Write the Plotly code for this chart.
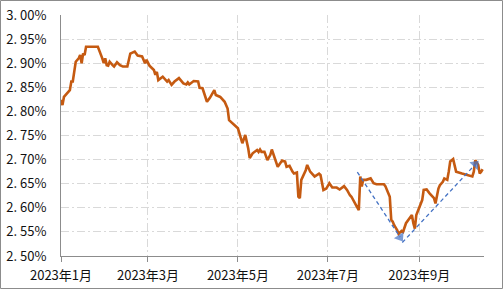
import plotly.graph_objects as go

# ---- data ----
dates = [
    "2023-01-01", "2023-01-02", "2023-01-03", "2023-01-06", "2023-01-07", "2023-01-08",
    "2023-01-09", "2023-01-11", "2023-01-13", "2023-01-14", "2023-01-15", "2023-01-16",
    "2023-01-17", "2023-01-18", "2023-01-26", "2023-01-29", "2023-01-30", "2023-01-31",
    "2023-02-01", "2023-02-02", "2023-02-03", "2023-02-05", "2023-02-06", "2023-02-08",
    "2023-02-10", "2023-02-12", "2023-02-15", "2023-02-17", "2023-02-20", "2023-02-22",
    "2023-02-25", "2023-02-27", "2023-02-28", "2023-03-02", "2023-03-05", "2023-03-06",
    "2023-03-07", "2023-03-08", "2023-03-11", "2023-03-14", "2023-03-15", "2023-03-17",
    "2023-03-19", "2023-03-22", "2023-03-25", "2023-03-27", "2023-03-28", "2023-03-29",
    "2023-04-01", "2023-04-04", "2023-04-05", "2023-04-07", "2023-04-10", "2023-04-12",
    "2023-04-15", "2023-04-16", "2023-04-19", "2023-04-22", "2023-04-24", "2023-04-25",
    "2023-04-28", "2023-05-01", "2023-05-04", "2023-05-06", "2023-05-08", "2023-05-09",
    "2023-05-11", "2023-05-14", "2023-05-15", "2023-05-16", "2023-05-17", "2023-05-19",
    "2023-05-21", "2023-05-23", "2023-05-24", "2023-05-26", "2023-05-28", "2023-05-31",
    "2023-06-02", "2023-06-03", "2023-06-05", "2023-06-07", "2023-06-08", "2023-06-10",
    "2023-06-11", "2023-06-12", "2023-06-13", "2023-06-16", "2023-06-17", "2023-06-19",
    "2023-06-22", "2023-06-25", "2023-06-26", "2023-06-28", "2023-06-30", "2023-07-02",
    "2023-07-04", "2023-07-07", "2023-07-09", "2023-07-12", "2023-07-14", "2023-07-16",
    "2023-07-17", "2023-07-20", "2023-07-22", "2023-07-23", "2023-07-24", "2023-07-25",
    "2023-07-27", "2023-07-30", "2023-08-01", "2023-08-03", "2023-08-08", "2023-08-09",
    "2023-08-12", "2023-08-13", "2023-08-14", "2023-08-15", "2023-08-17", "2023-08-18",
    "2023-08-20", "2023-08-21", "2023-08-23", "2023-08-26", "2023-08-27", "2023-08-28",
    "2023-08-29", "2023-08-30", "2023-09-02", "2023-09-03", "2023-09-04", "2023-09-06",
    "2023-09-08", "2023-09-11", "2023-09-12", "2023-09-14", "2023-09-15", "2023-09-17",
    "2023-09-18", "2023-09-20", "2023-09-21", "2023-09-22", "2023-09-24", "2023-09-25",
    "2023-09-26", "2023-09-30", "2023-10-05", "2023-10-07", "2023-10-08", "2023-10-09",
    "2023-10-11", "2023-10-12", "2023-10-13", "2023-10-14",
]
yields = [
    2.824, 2.813, 2.830, 2.841, 2.844, 2.862,
    2.862, 2.903, 2.910, 2.917, 2.900, 2.920,
    2.917, 2.934, 2.934, 2.910, 2.900, 2.910,
    2.896, 2.895, 2.903, 2.896, 2.893, 2.902,
    2.896, 2.893, 2.893, 2.920, 2.924, 2.916,
    2.914, 2.900, 2.907, 2.895, 2.886, 2.876,
    2.882, 2.865, 2.872, 2.862, 2.865, 2.855,
    2.862, 2.869, 2.858, 2.856, 2.860, 2.856,
    2.863, 2.862, 2.849, 2.848, 2.820, 2.828,
    2.844, 2.834, 2.830, 2.820, 2.806, 2.782,
    2.773, 2.765, 2.734, 2.751, 2.723, 2.703,
    2.713, 2.720, 2.716, 2.721, 2.716, 2.716,
    2.699, 2.710, 2.721, 2.703, 2.685, 2.698,
    2.696, 2.685, 2.687, 2.675, 2.671, 2.673,
    2.623, 2.620, 2.658, 2.678, 2.689, 2.675,
    2.665, 2.671, 2.668, 2.637, 2.640, 2.651,
    2.642, 2.642, 2.638, 2.645, 2.637, 2.626,
    2.623, 2.606, 2.595, 2.665, 2.644, 2.658,
    2.658, 2.661, 2.651, 2.649, 2.649, 2.645,
    2.623, 2.575, 2.571, 2.564, 2.554, 2.546,
    2.552, 2.550, 2.568, 2.581, 2.585, 2.568,
    2.557, 2.585, 2.609, 2.616, 2.637, 2.638,
    2.630, 2.620, 2.609, 2.640, 2.647, 2.654,
    2.661, 2.658, 2.675, 2.696, 2.701, 2.689,
    2.675, 2.671, 2.666, 2.665, 2.675, 2.699,
    2.689, 2.671, 2.675, 2.680,
]

# trend arrows (start, end) in data terms
arrow1_x = ["2023-07-21", "2023-08-19"]
arrow1_y = [2.674, 2.539]
arrow2_x = ["2023-08-20 12:00", "2023-10-09"]
arrow2_y = [2.528, 2.690]

x_tick_vals = ["2023-01-01", "2023-03-01", "2023-05-01", "2023-07-01", "2023-09-01"]
x_tick_text = ["2023年1月", "2023年3月", "2023年5月", "2023年7月", "2023年9月"]
y_tick_vals = [2.50, 2.55, 2.60, 2.65, 2.70, 2.75, 2.80, 2.85, 2.90, 2.95, 3.00]
y_tick_text = ["2. 50%", "2. 55%", "2. 60%", "2. 65%", "2. 70%", "2. 75%",
               "2. 80%", "2. 85%", "2. 90%", "2. 95%", "3. 00%"]
x_range = ["2023-01-01", "2023-10-14 22:00"]
y_range = [2.50, 3.00]

# ---- figure ----
W, H = 503, 289
ML, MR, MT, MB = 61, 19, 15, 33
FONT = "Noto Sans CJK SC, Liberation Sans, sans-serif"
GRID_DASH = "8px,3px,2px,3px"

fig = go.Figure()
fig.add_trace(go.Scatter(
    x=dates, y=yields, mode="lines",
    line=dict(color="#C55A11", width=2.6),
    showlegend=False, hoverinfo="skip",
))
for ax, ay in ((arrow1_x, arrow1_y), (arrow2_x, arrow2_y)):
    fig.add_trace(go.Scatter(
        x=ax, y=ay, mode="lines+markers",
        line=dict(color="#4472C4", width=1.3, dash="4px,3px"),
        marker=dict(symbol="triangle-up", size=[0, 10], angleref="previous",
                    color="#4472C4", line=dict(width=0)),
        showlegend=False, hoverinfo="skip",
    ))

pw = W - ML - MR
ph = H - MT - MB
fig.add_shape(
    type="rect", xref="paper", yref="paper",
    x0=(0.5 - ML) / pw, x1=(W - 0.5 - ML) / pw,
    y0=-(MB - 0.5) / ph, y1=(ph + MT - 0.5) / ph,
    line=dict(color="#8c8c8c", width=1), fillcolor="rgba(0,0,0,0)", layer="above",
)

fig.update_layout(
    width=W, height=H,
    margin=dict(l=ML, r=MR, t=MT, b=MB, autoexpand=False),
    paper_bgcolor="white", plot_bgcolor="white",
    font=dict(family=FONT, size=13, color="#111111"),
    xaxis=dict(
        type="date", range=x_range, automargin=False,
        tickmode="array", tickvals=x_tick_vals, ticktext=x_tick_text,
        showgrid=True, gridcolor="#d9d9d9", gridwidth=1, griddash=GRID_DASH,
        showline=True, linecolor="#8c8c8c", linewidth=1,
        ticks="outside", ticklen=5, tickcolor="#8c8c8c",
        ticklabelstandoff=2, zeroline=False,
    ),
    yaxis=dict(
        range=y_range, automargin=False,
        tickmode="array", tickvals=y_tick_vals, ticktext=y_tick_text,
        showgrid=True, gridcolor="#d9d9d9", gridwidth=1, griddash=GRID_DASH,
        showline=True, linecolor="#8c8c8c", linewidth=1,
        ticks="", ticklabelstandoff=11, zeroline=False,
    ),
)

fig.write_html("out.html")
